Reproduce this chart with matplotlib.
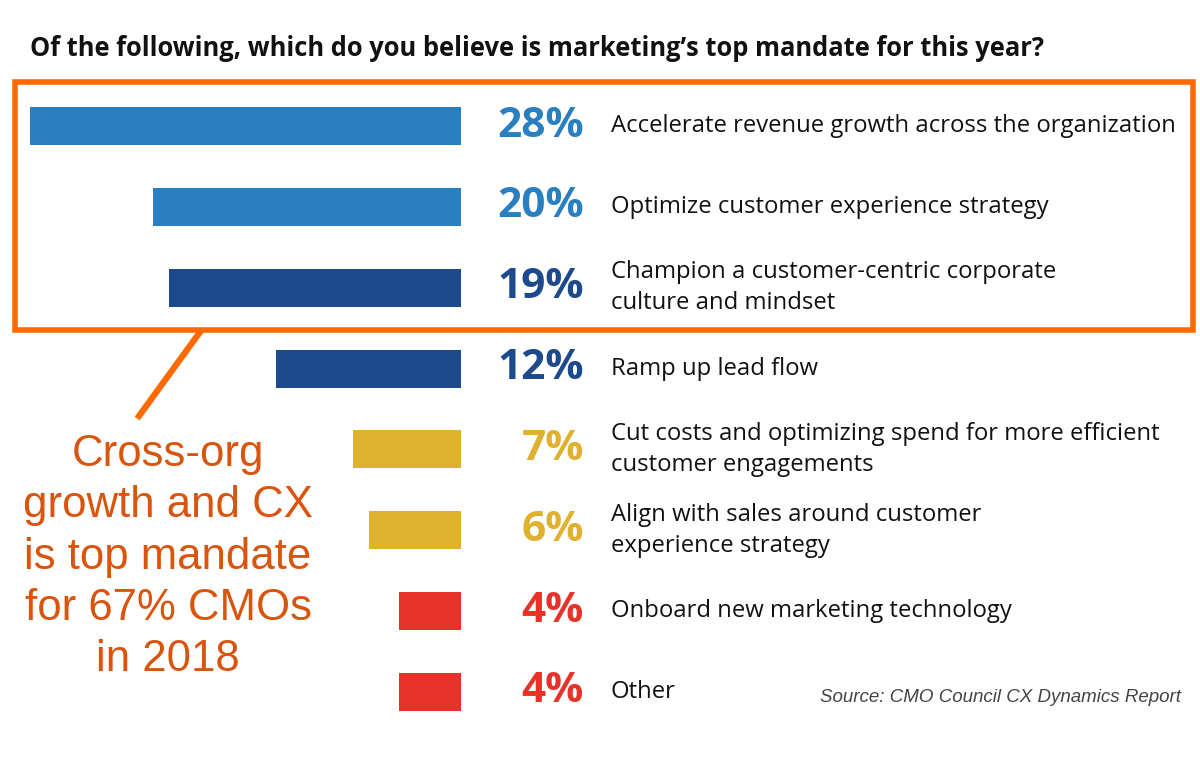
import matplotlib
matplotlib.use("Agg")
import matplotlib.pyplot as plt
import matplotlib.patches as patches
from matplotlib.transforms import blended_transform_factory

# Данные
categories = [
    "Accelerate revenue growth across the organization",
    "Optimize customer experience strategy",
    "Champion a customer-centric corporate\nculture and mindset",
    "Ramp up lead flow",
    "Cut costs and optimizing spend for more efficient\ncustomer engagements",
    "Align with sales around customer\nexperience strategy",
    "Onboard new marketing technology",
    "Other",
]
values = [28, 20, 19, 12, 7, 6, 4, 4]
bar_colors = ["#2A7FC1", "#2A7FC1", "#1C4A8C", "#1C4A8C",
              "#E0B12F", "#E0B12F", "#E5332A", "#E5332A"]

title = "Of the following, which do you believe is marketing\u2019s top mandate for this year?"
callout = "Cross-org\ngrowth and CX\nis top mandate\nfor 67% CMOs\nin 2018"
source = "Source: CMO Council CX Dynamics Report"

W, H = 1200, 759
fig = plt.figure(figsize=(W / 100, H / 100), dpi=100)

# ось столбцов: x от 30 до 461 px, y центры от 126 до 692 px
step = (692 - 126) / 7
top = 126 - step / 2
ax = fig.add_axes([30 / W, 1 - (top + 8 * step) / H, (461 - 30) / W, 8 * step / H])
ax.barh(range(len(values)), values, height=0.47, color=bar_colors)
ax.set_xlim(max(values), 0)
ax.set_ylim(len(values) - 0.5, -0.5)
ax.axis("off")

tr = blended_transform_factory(fig.transFigure, ax.transData)
for i, (v, c, lab) in enumerate(zip(values, bar_colors, categories)):
    ax.text(584 / W, i, f"{v}%", transform=tr, ha="right", va="center",
            fontsize=30.5, fontweight="bold", color=c, family="Open Sans")
    ax.text(611 / W, i, lab, transform=tr, ha="left", va="center",
            fontsize=17.2, color="#111111", family="Open Sans", linespacing=1.4)

fig.text(30 / W, 1 - 48 / H, title, ha="left", va="center",
         fontsize=18.4, fontweight="bold", color="#111111", family="Open Sans")

# оранжевая рамка и выноска
orange = "#FF6A00"
fig.add_artist(patches.Rectangle((15 / W, 1 - 330 / H), (1193 - 15) / W, (330 - 82) / H,
                                 transform=fig.transFigure, fill=False,
                                 edgecolor=orange, linewidth=4))
fig.add_artist(plt.Line2D([200 / W, 139 / W], [1 - 332 / H, 1 - 416 / H],
                          transform=fig.transFigure, color=orange, linewidth=4.5))

fig.text(168 / W, 1 - 557 / H, callout, ha="center", va="center",
         fontsize=31.5, color="#D9550E", family="Liberation Sans", linespacing=1.32)

fig.text(1181 / W, 1 - 698 / H, source, ha="right", va="center",
         fontsize=13.5, style="italic", color="#444444", family="Liberation Sans")

fig.savefig("out.png", dpi=100, facecolor="white")
